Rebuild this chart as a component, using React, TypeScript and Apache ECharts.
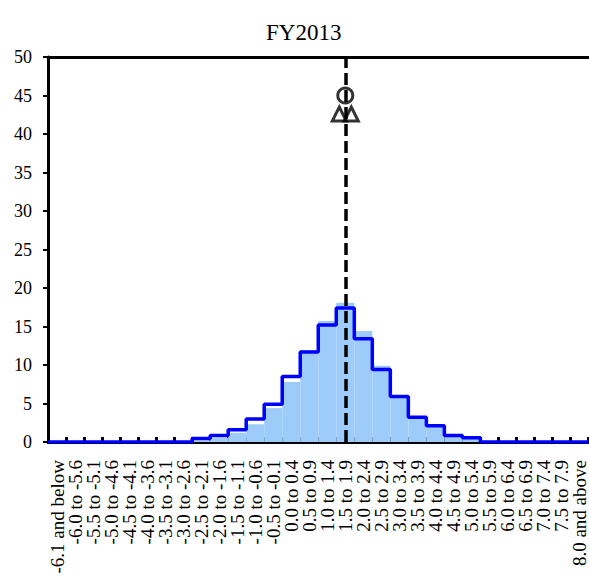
import React, { useEffect, useRef } from "react";
import * as echarts from "echarts";

const titleText = "FY2013";

const categories = [
  "-6.1 and below", "-6.0 to -5.6", "-5.5 to -5.1", "-5.0 to -4.6", "-4.5 to -4.1",
  "-4.0 to -3.6", "-3.5 to -3.1", "-3.0 to -2.6", "-2.5 to -2.1", "-2.0 to -1.6",
  "-1.5 to -1.1", "-1.0 to -0.6", "-0.5 to -0.1", "0.0 to 0.4", "0.5 to 0.9",
  "1.0 to 1.4", "1.5 to 1.9", "2.0 to 2.4", "2.5 to 2.9", "3.0 to 3.4",
  "3.5 to 3.9", "4.0 to 4.4", "4.5 to 4.9", "5.0 to 5.4", "5.5 to 5.9",
  "6.0 to 6.4", "6.5 to 6.9", "7.0 to 7.4", "7.5 to 7.9", "8.0 and above",
];

// light blue histogram
const barValues = [
  0, 0, 0, 0, 0, 0, 0, 0, 0.2, 0.55,
  1.2, 2.3, 4.4, 7.8, 11.9, 15.7, 18.1, 14.4, 9.9, 6.0,
  3.3, 2.1, 0.8, 0.4, 0, 0, 0, 0, 0, 0,
];

// blue step line
const lineValues = [
  0, 0, 0, 0, 0, 0, 0, 0, 0.45, 0.85,
  1.6, 3.0, 4.9, 8.5, 11.7, 15.2, 17.4, 13.4, 9.4, 5.9,
  3.2, 2.1, 0.85, 0.55, 0, 0, 0, 0, 0, 0,
];

const medianCategory = "1.5 to 1.9";
const circleValue = 45;
const triangleValue = 42.6;

const yMin = 0;
const yMax = 50;
const yInterval = 5;

const FONT = "Liberation Serif, Times New Roman, serif";

export default function App() {
  const ref = useRef<HTMLDivElement>(null);

  useEffect(() => {
    if (!ref.current) return;
    const chart = echarts.init(ref.current, undefined, { renderer: "svg" });

    const stepData: number[][] = lineValues.map((v, i) => [i, v]);
    stepData.push([categories.length, lineValues[lineValues.length - 1]]);

    const hollow = {
      color: "rgba(255,255,255,0)",
      borderColor: "#000",
      borderWidth: 3,
    };

    chart.setOption({
      animation: false,
      backgroundColor: "#fff",
      title: {
        text: titleText,
        left: 261,
        top: 16,
        textStyle: {
          fontFamily: FONT,
          fontSize: 23,
          fontWeight: "normal",
          color: "#000",
        },
      },
      grid: { left: 48, right: 0, top: 57, bottom: 138, containLabel: false },
      xAxis: [
        {
          type: "category",
          data: categories,
          position: "bottom",
          boundaryGap: true,
          axisLine: { show: true, lineStyle: { color: "#000", width: 3 } },
          axisTick: {
            show: true,
            inside: true,
            length: 5,
            interval: 0,
            lineStyle: { color: "#000", width: 3 },
          },
          axisLabel: {
            interval: 0,
            rotate: 90,
            margin: 18,
            fontFamily: FONT,
            fontSize: 19,
            color: "#000",
          },
          splitLine: { show: false },
        },
        {
          type: "value",
          position: "top",
          min: 0,
          max: categories.length,
          axisLine: { show: true, onZero: false, lineStyle: { color: "#000", width: 3 } },
          axisTick: { show: false },
          axisLabel: { show: false },
          splitLine: { show: false },
        },
      ],
      yAxis: {
        type: "value",
        min: yMin,
        max: yMax,
        interval: yInterval,
        axisLine: { show: true, lineStyle: { color: "#000", width: 3 } },
        axisTick: { show: true, length: 5, lineStyle: { color: "#000", width: 2 } },
        axisLabel: {
          margin: 16,
          fontFamily: FONT,
          fontSize: 18,
          color: "#000",
        },
        splitLine: { show: false },
      },
      series: [
        {
          type: "bar",
          xAxisIndex: 0,
          data: barValues,
          barWidth: "100%",
          barCategoryGap: "0%",
          itemStyle: { color: "#9DCCFA" },
          z: 1,
        },
        {
          type: "line",
          xAxisIndex: 1,
          data: stepData,
          step: "end",
          symbol: "none",
          lineStyle: { color: "#0000FF", width: 3.5 },
          itemStyle: { color: "#0000FF" },
          z: 3,
        },
        {
          type: "scatter",
          xAxisIndex: 0,
          data: [[medianCategory, circleValue]],
          symbol: "circle",
          symbolSize: 15,
          itemStyle: hollow,
          z: 6,
          markLine: {
            silent: true,
            symbol: "none",
            label: { show: false },
            lineStyle: { color: "#000", width: 3.5, type: [12, 5] },
            data: [{ xAxis: medianCategory }],
            z: 5,
          },
        },
        {
          type: "scatter",
          xAxisIndex: 0,
          data: [[medianCategory, triangleValue]],
          symbol: "triangle",
          symbolSize: [14, 14],
          symbolOffset: [-6, 0],
          itemStyle: hollow,
          z: 6,
        },
        {
          type: "scatter",
          xAxisIndex: 0,
          data: [[medianCategory, triangleValue]],
          symbol: "triangle",
          symbolSize: [14, 14],
          symbolOffset: [6, 0],
          itemStyle: hollow,
          z: 6,
        },
      ],
    });

    return () => chart.dispose();
  }, []);

  return (
    <div
      ref={ref}
      style={{ position: "fixed", left: 0, top: 0, width: 589, height: 580, background: "#fff" }}
    />
  );
}
